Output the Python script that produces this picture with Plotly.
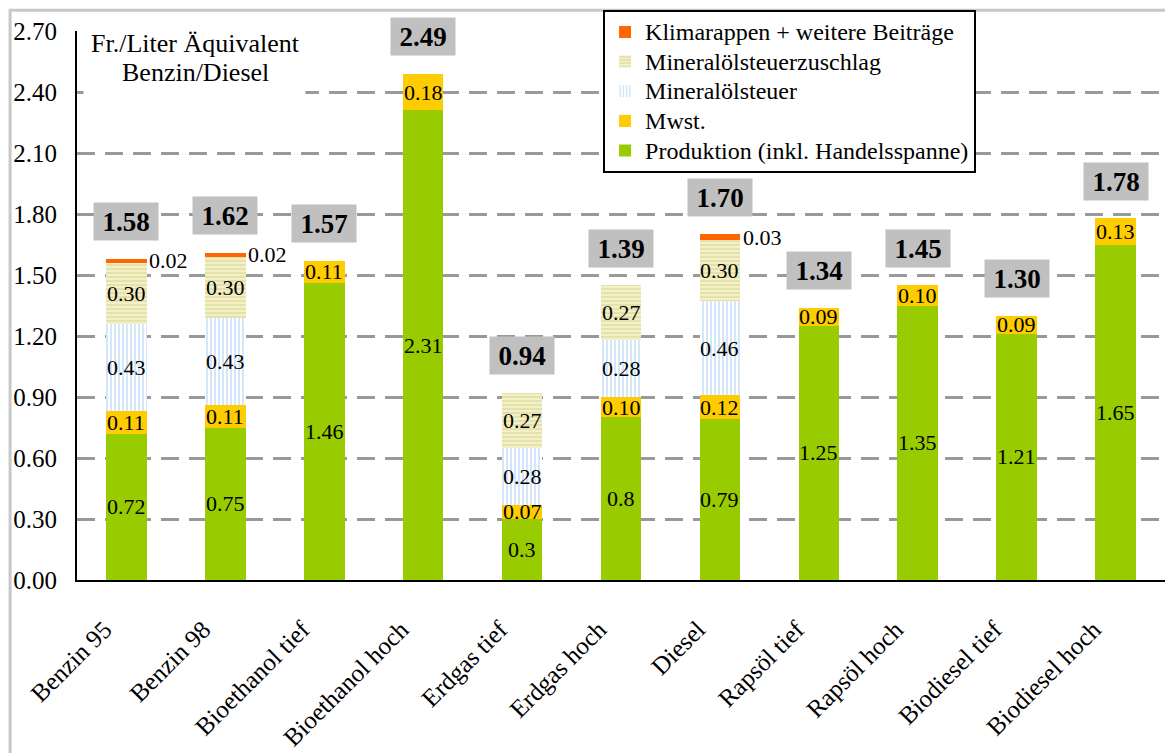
import plotly.graph_objects as go

# Kategorien und Kostenbestandteile (Fr. pro Liter Äquivalent Benzin/Diesel)
categories = ["Benzin 95", "Benzin 98", "Bioethanol tief", "Bioethanol hoch",
              "Erdgas tief", "Erdgas hoch", "Diesel", "Rapsöl tief",
              "Rapsöl hoch", "Biodiesel tief", "Biodiesel hoch"]
produktion = [0.72, 0.75, 1.46, 2.31, 0.3, 0.8, 0.79, 1.25, 1.35, 1.21, 1.65]
mwst = [0.11, 0.11, 0.11, 0.18, 0.07, 0.10, 0.12, 0.09, 0.10, 0.09, 0.13]
mineraloelsteuer = [0.43, 0.43, None, None, 0.28, 0.28, 0.46, None, None, None, None]
zuschlag = [0.30, 0.30, None, None, 0.27, 0.27, 0.30, None, None, None, None]
klimarappen = [0.02, 0.02, None, None, None, None, 0.03, None, None, None, None]
totals = [1.58, 1.62, 1.57, 2.49, 0.94, 1.39, 1.70, 1.34, 1.45, 1.30, 1.78]

FONT = "Liberation Serif"

series = [
    ("Produktion (inkl. Handelsspanne)", produktion, dict(color="#99cc00"), "{:g}"),
    ("Mwst.", mwst, dict(color="#ffcc00"), "{:.2f}"),
    ("Mineralölsteuer", mineraloelsteuer,
     dict(color="#ffffff", pattern=dict(shape="|", fgcolor="#a9cff5", bgcolor="#ffffff",
                                         size=4, solidity=0.5)), "{:.2f}"),
    ("Mineralölsteuerzuschlag", zuschlag,
     dict(color="#f3f0c4", pattern=dict(shape="-", fgcolor="#d6d29a", bgcolor="#f3f0c4",
                                         size=4, solidity=0.5)), "{:.2f}"),
    ("Klimarappen + weitere Beiträge", klimarappen, dict(color="#ff6600"), "{:.2f}"),
]

fig = go.Figure()
annotations = []
base = [0.0] * len(categories)
for name, values, marker, fmt in series:
    fig.add_trace(go.Bar(
        x=categories, y=values,
        name="<span style='font-size:24px'>%s</span>" % name,
        width=0.41,
        marker=dict(line=dict(width=0), **marker),
        hovertemplate="%{x}: %{y:.2f}<extra>" + name + "</extra>",
    ))
    outside = name.startswith("Klimarappen")
    for i, v in enumerate(values):
        if v is None:
            continue
        annotations.append(dict(
            x=categories[i], y=base[i] + v / 2, xref="x", yref="y",
            text=fmt.format(v), showarrow=False,
            xanchor="left" if outside else "center", xshift=21 if outside else 0,
            font=dict(family=FONT, size=22, color="black")))
        base[i] += v

# Gesamtbeträge in grauen Kästchen über den Säulen
for i, t in enumerate(totals):
    annotations.append(dict(
        x=categories[i], y=base[i], xref="x", yref="y", yanchor="middle",
        yshift=37, text="<b>{:.2f}</b>".format(t), showarrow=False,
        bgcolor="#c0c0c0", width=62, height=35,
        font=dict(family=FONT, size=27, color="black")))

# Einheitenangabe oben links auf weissem Feld, zweizeilig
annotations.append(dict(
    x=0.108, y=0.937, xref="paper", yref="paper", xanchor="center", yanchor="middle",
    text=" ", showarrow=False, bgcolor="white", width=221, height=69, borderpad=0))
for line, ypos in (("Fr./Liter Äquivalent", 0.978), ("Benzin/Diesel", 0.9235)):
    annotations.append(dict(
        x=0.109, y=ypos, xref="paper", yref="paper", xanchor="center", yanchor="middle",
        text=line, showarrow=False,
        font=dict(family=FONT, size=26, color="black")))

fig.update_layout(
    barmode="stack",
    width=1165, height=753,
    margin=dict(l=77, r=0, t=31, b=173),
    paper_bgcolor="white", plot_bgcolor="white",
    font=dict(family=FONT, color="black"),
    showlegend=True,
    legend=dict(
        x=0.4835, y=1.038, xanchor="left", yanchor="top",
        traceorder="reversed", bgcolor="white",
        bordercolor="black", borderwidth=2,
        font=dict(family=FONT, size=20.5, color="black"),
        tracegroupgap=0, itemwidth=30,
    ),
    annotations=annotations,
    shapes=[dict(type="rect", xref="paper", yref="paper",
                 x0=-0.0615, x1=1.2, y0=-0.5, y1=1.038,
                 line=dict(color="#c8c8c8", width=3), layer="below")],
    xaxis=dict(
        tickangle=-45, showline=True, linecolor="black", linewidth=2,
        tickfont=dict(family=FONT, size=25, color="black"),
        showgrid=False, ticks="", ticklabelstandoff=23, ticklabelshift=-22,
    ),
    yaxis=dict(
        range=[0, 2.70], tickvals=[i * 0.30 for i in range(10)],
        tickformat=".2f", showline=True, linecolor="black", linewidth=2,
        ticks="",
        tickfont=dict(family=FONT, size=25, color="black"),
        ticklabelstandoff=13,
        showgrid=True, gridcolor="#999999", gridwidth=3, griddash="18px,10px",
        zeroline=False,
    ),
)

fig.write_html("out.html")
